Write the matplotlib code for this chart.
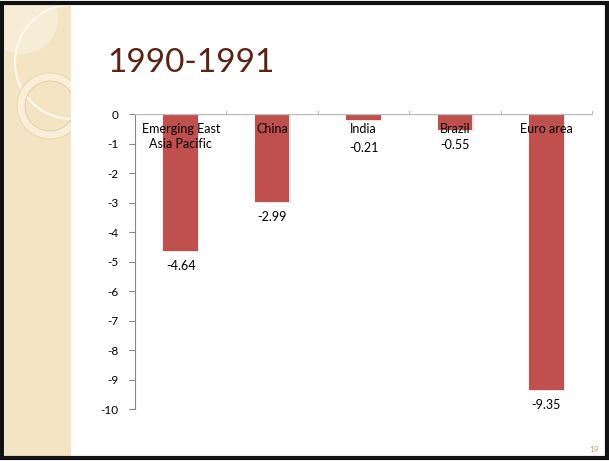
import numpy as np
import matplotlib
matplotlib.use("Agg")
import matplotlib.pyplot as plt
from matplotlib.patches import Rectangle, Circle

categories = ["Emerging East\nAsia Pacific", "China", "India", "Brazil", "Euro area"]
values = [-4.64, -2.99, -0.21, -0.55, -9.35]
value_labels = ["-4.64", "-2.99", "-0.21", "-0.55", "-9.35"]
yticks = list(range(-10, 1))

plt.rcParams['font.family'] = ['Lato', 'DejaVu Sans']

fig = plt.figure(figsize=(6.09, 4.61), dpi=100)
W, H = 609, 461

def fx(px):
    return px / W

def fy(py):
    return 1 - py / H

# slide decoration: left panel and rings
ring_ax = fig.add_axes([fx(5), fy(457), fx(66), fy(5) - fy(457)], zorder=-1)
ring_ax.set_xlim(5, 71)
ring_ax.set_ylim(457, 5)
ring_ax.set_facecolor("#f3e4c3")
for s in ring_ax.spines.values():
    s.set_visible(False)
ring_ax.set_xticks([])
ring_ax.set_yticks([])
ring_ax.add_patch(Circle((22, 18), 36, facecolor="#f7ecd6", edgecolor="none"))
ring_ax.add_patch(Circle((72, 62), 57, facecolor="none", edgecolor="#fdf8ee", lw=1.5))
ring_ax.add_patch(Circle((50, 106), 29, facecolor="none", edgecolor="#f9eed8", lw=6))
ring_ax.add_patch(Circle((50, 106), 25, facecolor="none", edgecolor="#e0cca2", lw=0.6))
ring_ax.add_patch(Circle((50, 106), 33, facecolor="none", edgecolor="#e6d3ab", lw=0.6))

# slide border
fig.patches.append(Rectangle((fx(2), fy(458)), fx(605), fy(3) - fy(458),
                             transform=fig.transFigure, facecolor="none",
                             edgecolor="#111111", lw=3, zorder=10))

fig.text(fx(107), fy(63), "1990-1991", fontsize=24, color="#5a2414",
         va="center", ha="left")
fig.text(fx(594), fy(449), "19", fontsize=6, color="#b8a27a",
         ha="center", va="center")

ax = fig.add_axes([fx(135), fy(409), fx(592) - fx(135), fy(114) - fy(409)])
x = np.arange(len(categories))
ax.bar(x + 0.015, np.array(values) - 0.04, width=0.38, color="#e4e4e4", zorder=1)
ax.bar(x, values, width=0.38, color="#c0504d", zorder=2)
ax.set_xlim(-0.5, len(categories) - 0.5)
ax.set_ylim(-10, 0)
ax.set_yticks(yticks)
ax.set_yticklabels([str(t) for t in yticks], fontsize=8.5)
ax.tick_params(axis="y", length=4, color="#888888", pad=8)

ax.spines["right"].set_visible(False)
ax.spines["bottom"].set_visible(False)
ax.spines["top"].set_visible(False)
ax.spines["left"].set_color("#888888")
ax.axhline(0, color="#bbbbbb", lw=1, zorder=3)
ax.set_xticks([])
for b in np.arange(0.5, len(categories) - 0.5 + 0.01, 1.0):
    ax.plot([b, b], [0, 0.1], color="#bbbbbb", lw=0.8, clip_on=False)

for i, (c, v, lab) in enumerate(zip(categories, values, value_labels)):
    ax.text(i, -0.3, c, ha="center", va="top", fontsize=9, zorder=4,
            linespacing=1.35)
    if i == 2:
        ax.text(i, -0.95, lab, ha="center", va="top", fontsize=9)
    else:
        ax.text(i, v - 0.3, lab, ha="center", va="top", fontsize=9)

fig.savefig("out.png", dpi=100)
